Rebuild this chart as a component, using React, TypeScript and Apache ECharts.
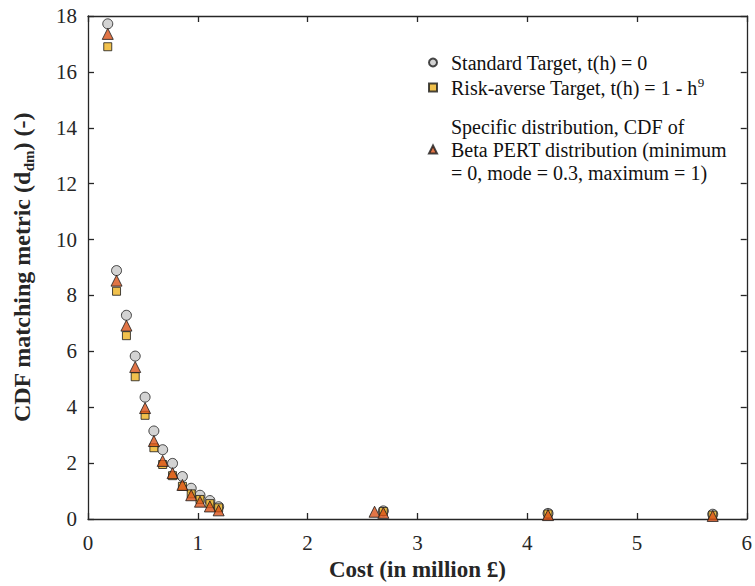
import React, { useEffect, useRef } from "react";
import * as echarts from "echarts";

// Cost (in million £) and CDF matching metric for each target
const costStandard = [0.18, 0.26, 0.35, 0.43, 0.52, 0.6, 0.68, 0.77, 0.86, 0.94, 1.02, 1.11, 1.19, 2.69, 4.19, 5.69];
const metricStandard = [17.72, 8.89, 7.29, 5.83, 4.36, 3.15, 2.48, 1.99, 1.52, 1.1, 0.85, 0.66, 0.44, 0.29, 0.2, 0.17];

const costRisk = [0.18, 0.26, 0.35, 0.43, 0.52, 0.6, 0.68, 0.77, 0.86, 0.94, 1.02, 1.11, 1.19, 2.69, 4.19, 5.69];
const metricRisk = [16.9, 8.15, 6.56, 5.09, 3.71, 2.55, 1.95, 1.55, 1.17, 0.9, 0.7, 0.55, 0.4, 0.27, 0.18, 0.14];

const costPert = [0.18, 0.26, 0.35, 0.43, 0.52, 0.6, 0.68, 0.77, 0.86, 0.94, 1.02, 1.11, 1.19, 2.61, 2.69, 4.19, 5.69];
const metricPert = [17.36, 8.53, 6.92, 5.44, 3.97, 2.79, 2.08, 1.64, 1.22, 0.85, 0.62, 0.45, 0.31, 0.26, 0.22, 0.14, 0.11];

const seriesNames = [
  "Standard Target, t(h) = 0",
  "Risk-averse Target, t(h) = 1 - h9",
  "Specific distribution, CDF of Beta PERT distribution (minimum = 0, mode = 0.3, maximum = 1)",
];
const legendLabels = [
  "Standard Target, t(h) = 0",
  "Risk-averse Target, t(h) = 1 - h{sup|9}",
  "Specific distribution, CDF of\nBeta PERT distribution (minimum\n= 0, mode = 0.3, maximum = 1)",
];

const xMin = 0, xMax = 6, xStep = 1;
const yMin = 0, yMax = 18, yStep = 2;

const FONT = "'Liberation Serif', 'Times New Roman', serif";
const INK = "#262626";

function pairs(xs: number[], ys: number[]) {
  return xs.map((x, i) => [x, ys[i]]);
}

export default function App() {
  const ref = useRef<HTMLDivElement>(null);
  useEffect(() => {
    if (!ref.current) return;
    const chart = echarts.init(ref.current, null, { renderer: "svg" });
    const axisCommon = {
      axisLine: { show: true, onZero: false, lineStyle: { color: INK, width: 1.3 } },
      axisTick: { show: true, inside: true, length: 6, lineStyle: { color: INK, width: 1.3 } },
      splitLine: { show: false },
    };
    const border = { borderColor: "#1a1a1a", borderWidth: 1 };
    chart.setOption({
      animation: false,
      backgroundColor: "#ffffff",
      grid: { left: 83, right: 4, top: 16, bottom: 60, containLabel: false },
      legend: {
        orient: "vertical",
        left: 428,
        top: 51,
        padding: 0,
        itemGap: 2,
        itemWidth: 8,
        itemHeight: 8,
        data: [
          { name: seriesNames[0], textStyle: { padding: [0, 0, 0, 9] } },
          { name: seriesNames[1], textStyle: { padding: [0, 0, 0, 9] } },
          { name: seriesNames[2], textStyle: { padding: [14, 0, 14, 9] } },
        ],
        formatter: (name: string) => legendLabels[seriesNames.indexOf(name)],
        textStyle: {
          fontFamily: FONT,
          fontSize: 20,
          color: "#111",
          lineHeight: 23,
          rich: {
            sup: { fontFamily: FONT, fontSize: 13, color: "#111", verticalAlign: "top", lineHeight: 12 },
          },
        },
      },
      xAxis: [
        {
          type: "value",
          min: xMin,
          max: xMax,
          interval: xStep,
          position: "bottom",
          ...axisCommon,
          axisLabel: { fontFamily: FONT, fontSize: 21, color: INK, margin: 13 },
          name: "Cost (in million £)",
          nameLocation: "middle",
          nameGap: 39,
          nameTextStyle: { fontFamily: FONT, fontSize: 23, fontWeight: "bold", color: INK },
        },
        {
          type: "value",
          min: xMin,
          max: xMax,
          interval: xStep,
          position: "top",
          ...axisCommon,
          axisLabel: { show: false },
        },
      ],
      yAxis: [
        {
          type: "value",
          min: yMin,
          max: yMax,
          interval: yStep,
          position: "left",
          ...axisCommon,
          axisLabel: { fontFamily: FONT, fontSize: 21, color: INK, margin: 11 },
          name: "CDF matching metric (d{sub|dm}) (-)",
          nameLocation: "middle",
          nameGap: 52,
          nameTextStyle: {
            fontFamily: FONT,
            fontSize: 24,
            fontWeight: "bold",
            color: INK,
            lineHeight: 28,
            rich: {
              sub: { fontFamily: FONT, fontSize: 15, fontWeight: "bold", color: INK, verticalAlign: "bottom", lineHeight: 14 },
            },
          },
        },
        {
          type: "value",
          min: yMin,
          max: yMax,
          interval: yStep,
          position: "right",
          ...axisCommon,
          axisLabel: { show: false },
        },
      ],
      series: [
        {
          name: seriesNames[0],
          type: "scatter",
          symbol: "circle",
          symbolSize: 10,
          itemStyle: { color: "#c8c8c8", ...border },
          data: pairs(costStandard, metricStandard),
        },
        {
          name: seriesNames[1],
          type: "scatter",
          symbol: "rect",
          symbolSize: 8,
          itemStyle: { color: "#edb120", ...border },
          data: pairs(costRisk, metricRisk),
        },
        {
          name: seriesNames[2],
          type: "scatter",
          symbol: "triangle",
          symbolSize: 11,
          itemStyle: { color: "#d95319", ...border },
          data: pairs(costPert, metricPert),
        },
      ],
    });
    return () => chart.dispose();
  }, []);
  return <div ref={ref} style={{ position: "fixed", left: 0, top: 0, width: 755, height: 586 }} />;
}
